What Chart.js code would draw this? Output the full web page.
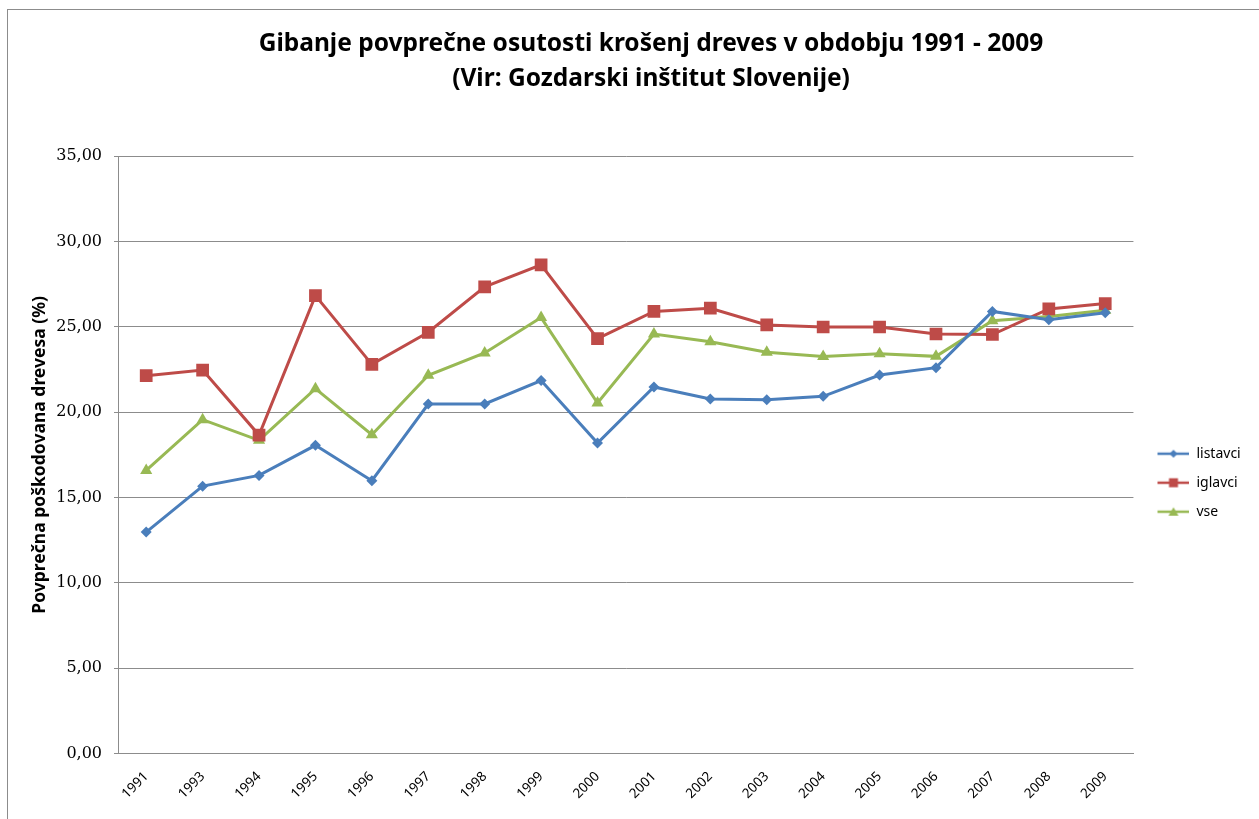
<!DOCTYPE html>
<html>
<head>
<meta charset="utf-8">
<script src="https://cdn.jsdelivr.net/npm/chart.js@4"></script>
<style>
    body { margin: 0; background: #fff; }
    .okvir { position: absolute; left: 7px; top: 9px; width: 1260px; height: 830px; border: 1px solid #8c8c8c; }
    .graf { position: absolute; left: 0; top: 0; width: 1259px; height: 819px; }
</style>
</head>
<body>
<div class="okvir"></div>
<div class="graf"><canvas id="graf" width="1259" height="819"></canvas></div>
<script>
const leta = ['1991', '1993', '1994', '1995', '1996', '1997', '1998', '1999', '2000',
    '2001', '2002', '2003', '2004', '2005', '2006', '2007', '2008', '2009'];
const listavci = [12.98, 15.67, 16.30, 18.06, 15.99, 20.48, 20.48, 21.85, 18.19,
    21.48, 20.77, 20.73, 20.93, 22.18, 22.61, 25.90, 25.42, 25.82];
const iglavci = [22.14, 22.47, 18.66, 26.83, 22.80, 24.68, 27.34, 28.63, 24.31,
    25.90, 26.09, 25.11, 24.99, 24.99, 24.58, 24.55, 26.05, 26.36];
const vse = [16.59, 19.56, 18.35, 21.38, 18.68, 22.16, 23.47, 25.54, 20.54,
    24.58, 24.13, 23.51, 23.26, 23.43, 23.27, 25.36, 25.60, 25.97];
const naslov = ['Gibanje povprečne osutosti krošenj dreves v obdobju 1991 - 2009', '(Vir: Gozdarski inštitut Slovenije)'];
const osY = 'Povprečna poškodovana drevesa (%)';

// mali znak za legendo: crta + oznaka (levo 9px praznega prostora)
function znak(barva, oblika) {
    const c = document.createElement('canvas');
    c.width = 41; c.height = 14;
    const ctx = c.getContext('2d');
    ctx.strokeStyle = barva;
    ctx.lineWidth = 2.5;
    ctx.beginPath();
    ctx.moveTo(9, 7); ctx.lineTo(41, 7);
    ctx.stroke();
    ctx.fillStyle = barva;
    ctx.beginPath();
    if (oblika === 'romb') {
        ctx.moveTo(25, 3); ctx.lineTo(29, 7); ctx.lineTo(25, 11); ctx.lineTo(21, 7);
    } else if (oblika === 'kvadrat') {
        ctx.rect(20.5, 2.5, 9, 9);
    } else {
        ctx.moveTo(25, 2.5); ctx.lineTo(30, 11); ctx.lineTo(20, 11);
    }
    ctx.closePath();
    ctx.fill();
    return c;
}

const barve = ['#4A7EBB', '#BE4B48', '#98B954'];
const znaki = [znak(barve[0], 'romb'), znak(barve[1], 'kvadrat'), znak(barve[2], 'trikotnik')];

new Chart(document.getElementById('graf'), {
    type: 'line',
    data: {
        labels: leta,
        datasets: [
            { label: 'listavci', data: listavci, borderColor: barve[0], backgroundColor: barve[0],
              pointStyle: 'rectRot', pointRadius: 5.5, pointHoverRadius: 5.5 },
            { label: 'iglavci', data: iglavci, borderColor: barve[1], backgroundColor: barve[1],
              pointStyle: 'rect', pointRadius: 9, pointHoverRadius: 9 },
            { label: 'vse', data: vse, borderColor: barve[2], backgroundColor: barve[2],
              pointStyle: 'triangle', pointRadius: 7, pointHoverRadius: 7 }
        ]
    },
    options: {
        responsive: false,
        animation: false,
        devicePixelRatio: 1,
        elements: { line: { borderWidth: 3, tension: 0 }, point: { borderWidth: 0 } },
        layout: { padding: { left: 44, right: 1, top: 14, bottom: 10 } },
        plugins: {
            title: {
                display: true,
                text: naslov,
                color: '#000',
                font: { family: 'Noto Sans', size: 24.5, weight: 'bold', lineHeight: 1.43 },
                padding: { top: 12, bottom: 60 }
            },
            legend: {
                position: 'right',
                title: { display: true, text: ' ', font: { size: 12 }, padding: { top: 116, bottom: 12 } },
                labels: {
                    usePointStyle: true,
                    pointStyleWidth: 41,
                    color: '#000',
                    font: { family: 'Noto Sans', size: 14 },
                    padding: 15,
                    generateLabels: (chart) => {
                        const items = Chart.defaults.plugins.legend.labels.generateLabels(chart);
                        items.forEach((it, i) => { it.pointStyle = znaki[i]; it.text = it.text + '  '; });
                        return items;
                    }
                }
            },
            tooltip: { enabled: false }
        },
        scales: {
            x: {
                offset: true,
                grid: { display: false },
                border: { color: '#8c8c8c' },
                ticks: { color: '#000', maxRotation: 45, minRotation: 45, autoSkip: false, padding: 7,
                    font: { family: 'Noto Sans', size: 13.5 } }
            },
            y: {
                min: 0,
                max: 35,
                afterFit: (s) => { s.width = 74; },
                border: { color: '#8c8c8c' },
                grid: { color: '#8c8c8c', tickLength: 4 },
                ticks: { stepSize: 5, color: '#000', padding: 12,
                    font: { family: 'DejaVu Serif', size: 16 },
                    callback: (v) => v.toFixed(2).replace('.', ',') },
                title: { display: true, text: osY, color: '#000',
                    font: { family: 'Noto Sans', size: 17.5, weight: 'bold' }, padding: { top: -14, bottom: 0 } }
            }
        }
    }
});
</script>
</body>
</html>
